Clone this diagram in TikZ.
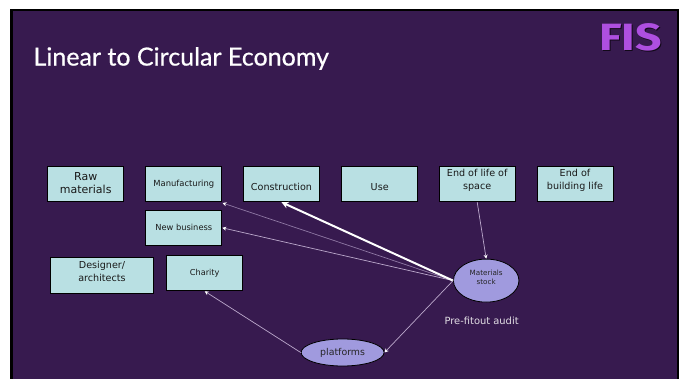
\documentclass[tikz,border=0pt]{standalone}
\usepackage{fontspec}
\setmainfont{DejaVu Sans}
\newfontfamily\titlefont[FakeBold=0.6]{Lato}
\newfontfamily\logofont{Fira Sans}
\usepackage{xcolor}
\definecolor{slidebg}{HTML}{371A4F}
\definecolor{boxfill}{HTML}{B9E0E3}
\definecolor{ovalfill}{HTML}{A09ADE}
\definecolor{thinline}{HTML}{BCA9CC}
\definecolor{dimline}{HTML}{8F78A4}
\definecolor{logopurple}{HTML}{AE4FE0}
\usetikzlibrary{shapes.geometric,arrows.meta}
\tikzset{
  stagebox/.style={draw=black,line width=1pt,fill=boxfill,text=black!90,minimum width=76pt,minimum height=35.5pt,inner sep=0pt,align=center,font=\fontsize{9.6}{12.3}\selectfont},
  stockoval/.style={ellipse,draw=black,line width=0.8pt,fill=ovalfill,text=black!85,inner sep=0pt,align=center},
  flowline/.style={draw=thinline,line width=0.7pt,-{Stealth[length=4pt,width=4pt,color=white]}}
}
\begin{document}
\begin{tikzpicture}[x=1pt,y=-1pt]
\useasboundingbox (0,0) rectangle (685,379);
\fill[white] (0,0) rectangle (685,379);
\fill[black] (10,9) rectangle (678.5,379);
\fill[slidebg] (12.5,11.5) rectangle (677,379);

\node[anchor=west,text=white,font=\titlefont\fontsize{25}{30}\selectfont] (title) at (30,58.5) {Linear to Circular Economy};
\node[xscale=1.22,text=black!70!slidebg,font=\logofont\bfseries\fontsize{38}{40}\selectfont] (logoshadow) at (631.5,38.5) {FIS};
\node[xscale=1.22,text=logopurple,font=\logofont\bfseries\fontsize{38}{40}\selectfont] (logo) at (630.5,37) {FIS};

\node[stagebox,text depth=3pt,font=\fontsize{11}{13}\selectfont] (raw) at (85.7,184) {Raw\\materials};
\node[stagebox,font=\fontsize{8.4}{10}\selectfont] (manufacturing) at (183.8,184) {Manufacturing};
\node[stagebox,text height=12.7pt] (construction) at (281.5,184) {Construction};
\node[stagebox,text height=12.7pt] (use) at (379.7,184) {Use};
\node[stagebox,text depth=9pt] (endspace) at (477.2,184) {End of life of\\space};
\node[stagebox,text depth=9pt] (endbuilding) at (575,184) {End of\\building life};
\node[stagebox,font=\fontsize{8.3}{10}\selectfont] (newbusiness) at (183.8,227.8) {New business};
\node[stagebox,text depth=7.6pt,minimum width=102.5pt,minimum height=36pt] (designer) at (102,275.3) {Designer/\\architects};
\node[stagebox,font=\fontsize{8.2}{10}\selectfont] (charity) at (204.7,273) {Charity};

\node[stockoval,text depth=6pt,minimum width=65.5pt,minimum height=43pt,font=\fontsize{7.2}{9}\selectfont] (stock) at (486.2,280.6) {Materials\\stock};
\node[stockoval,minimum width=83pt,minimum height=27pt,font=\fontsize{9.4}{11}\selectfont] (platforms) at (342.6,352.5) {platforms};
\node[text=white!85!slidebg,font=\fontsize{9.9}{11}\selectfont] (audit) at (481.6,320.7) {Pre-fitout audit};

\coordinate (manuend) at (222.5,203);
\draw[flowline,draw=dimline] (stock.west) -- (manuend);
\draw[flowline] (stock.west) -- (newbusiness.east);
\draw[draw=white,line width=2pt,-{Stealth[length=7pt,width=7pt]},white] (stock.west) -- (construction.south);
\draw[flowline] (endspace.south) -- (stock.north);
\draw[flowline] (platforms.west) -- (charity.south);
\draw[flowline] (stock.west) -- (platforms.east);
\end{tikzpicture}
\end{document}
